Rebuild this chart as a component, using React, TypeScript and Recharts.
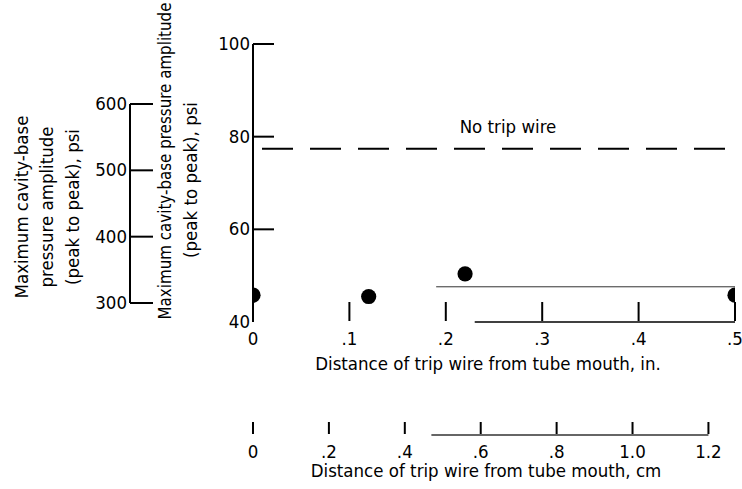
import React from 'react';
import { ScatterChart, Scatter, XAxis, YAxis, ReferenceLine, Label } from 'recharts';

// measured points, distance in inches vs. amplitude
const DIST_IN = [0, 0.12, 0.22, 0.5];
const AMP = [45.8, 45.5, 50.4, 45.8];
const NO_WIRE = 77.4;

const IN_TICKS = [0, 0.1, 0.2, 0.3, 0.4, 0.5];
const IN_LABELS = ['0', '.1', '.2', '.3', '.4', '.5'];
const CM_TICKS = [0, 0.2, 0.4, 0.6, 0.8, 1.0, 1.2];
const CM_LABELS = ['0', '.2', '.4', '.6', '.8', '1.0', '1.2'];
const MAIN_TICKS = [40, 60, 80, 100];
const PSI_TICKS = [300, 400, 500, 600];

const CM_PER_IN = 2.54;
const CM_MAX = 0.5 * CM_PER_IN; // cm scale shares the inch axis length

const FONT = "'DejaVu Sans Condensed', 'Liberation Sans Narrow', sans-serif";
const INK = '#000';
const FS = 18.5;

const points = DIST_IN.map((x, i) => ({ x, y: AMP[i] }));
const pointsCm = DIST_IN.map((x, i) => ({ x: x * CM_PER_IN, y: AMP[i] }));

const xTick = (labels: string[], ticks: number[], len: number) => (p: any) => {
  const v = p.payload.value;
  const label = labels[ticks.indexOf(v)] ?? String(v);
  return (
    <g>
      <line x1={p.x} x2={p.x} y1={p.y - len} y2={p.y - 1} stroke={INK} strokeWidth={2} />
      <text x={p.x} y={p.y + 23} textAnchor="middle" fontSize={FS} fontFamily={FONT} fill={INK}>{label}</text>
    </g>
  );
};

const yTick = (len: number, skip: number | null, dy = 6) => (p: any) => {
  const v = p.payload.value;
  return (
    <g>
      {v !== skip && <line x1={p.x} x2={p.x + len} y1={p.y} y2={p.y} stroke={INK} strokeWidth={2} />}
      <text x={p.x - 3} y={p.y + dy} textAnchor="end" fontSize={FS} fontFamily={FONT} fill={INK}>{v}</text>
    </g>
  );
};

const rotText = (x: number, y: number, s: string, key: string, fs = FS) => (
  <text key={key} x={x} y={y} transform={`rotate(-90, ${x}, ${y})`} textAnchor="middle"
    fontSize={fs} fontFamily={FONT} fill={INK}>{s}</text>
);

export default function App() {
  return (
    <div style={{ position: 'absolute', left: 0, top: 0, width: 742, height: 489, background: '#fff' }}>
      <div style={{ position: 'absolute', left: 0, top: 0 }}>
        <ScatterChart width={742} height={489} margin={{ top: 44, right: 7, bottom: 0, left: 0 }}>
          <XAxis xAxisId="a_in" type="number" dataKey="x" domain={[0, 0.5]} ticks={IN_TICKS} interval={0}
            allowDataOverflow height={113} axisLine={false} tickLine={false} tickSize={0} tickMargin={0}
            tick={xTick(IN_LABELS, IN_TICKS, 20)}>
            <Label content={(lp: any) => {
              const vb = lp.viewBox;
              return (
                <text x={vb.x + vb.width / 2 - 6} y={vb.y + 48} textAnchor="middle" fontSize={FS}
                  fontFamily={FONT} fill={INK}>Distance of trip wire from tube mouth, in.</text>
              );
            }} />
          </XAxis>
          <XAxis xAxisId="b_cm" type="number" dataKey="x" domain={[0, CM_MAX]} ticks={CM_TICKS} interval={0}
            allowDataOverflow height={54} axisLine={false} tickLine={false} tickSize={0} tickMargin={0}
            tick={xTick(CM_LABELS, CM_TICKS, 13)}>
            <Label content={(lp: any) => {
              const vb = lp.viewBox;
              return (
                <g>
                  <line x1={vb.x + vb.width * 0.47 / CM_MAX} x2={vb.x + vb.width * 1.2 / CM_MAX}
                    y1={vb.y} y2={vb.y} stroke="#333" strokeWidth={1.5} />
                  <text x={vb.x + vb.width / 2 - 8} y={vb.y + 42} textAnchor="middle" fontSize={FS}
                    fontFamily={FONT} fill={INK}>Distance of trip wire from tube mouth, cm</text>
                </g>
              );
            }} />
          </XAxis>
          <YAxis yAxisId="main" type="number" dataKey="y" domain={[40, 100]} ticks={MAIN_TICKS} interval={0}
            allowDataOverflow width={253} axisLine={{ stroke: INK, strokeWidth: 2 }} tickLine={false}
            tickSize={0} tickMargin={0} tick={yTick(21, 40)}>
            <Label content={(lp: any) => {
              const vb = lp.viewBox;
              const r = vb.x + vb.width;
              return (
                <g>
                  {rotText(r - 82, vb.y + 117, 'Maximum cavity-base pressure amplitude', 'a', 16.8)}
                  {rotText(r - 56, vb.y + 136, '(peak to peak), psi', 'b')}
                </g>
              );
            }} />
          </YAxis>
          <ReferenceLine xAxisId="a_in" yAxisId="main" y={NO_WIRE} stroke={INK} strokeWidth={2}
            strokeDasharray="31 17" strokeDashoffset={39}
            label={{
              content: (lp: any) => {
                const vb = lp.viewBox;
                return (
                  <text x={vb.x + vb.width / 2 + 14} y={vb.y - 16} textAnchor="middle" fontSize={FS}
                    fontFamily={FONT} fill={INK}>No trip wire</text>
                );
              },
            }} />
          <ReferenceLine xAxisId="a_in" yAxisId="main" segment={[{ x: 0.23, y: 40 }, { x: 0.5, y: 40 }]}
            stroke={INK} strokeWidth={1.5} />
          <ReferenceLine xAxisId="a_in" yAxisId="main" segment={[{ x: 0.19, y: 47.6 }, { x: 0.5, y: 47.6 }]}
            stroke="#333" strokeWidth={1} />
          <Scatter xAxisId="a_in" yAxisId="main" data={points} dataKey="y" isAnimationActive={false}
            shape={(p: any) => <circle cx={p.cx} cy={p.cy} r={7.6} fill={INK} />} />
          {/* same points on the cm scale, not drawn: gives the cm axis its domain */}
          <Scatter xAxisId="b_cm" yAxisId="main" data={pointsCm} dataKey="y" isAnimationActive={false}
            legendType="none" shape={() => <g />} />
        </ScatterChart>
      </div>
      <div style={{ position: 'absolute', left: 0, top: 0, pointerEvents: 'none' }}>
        <ScatterChart width={200} height={489} margin={{ top: 104, right: 0, bottom: 186, left: 0 }}>
          <XAxis type="number" dataKey="x" domain={[0, 1]} hide />
          <YAxis type="number" dataKey="y" domain={[300, 600]} ticks={PSI_TICKS} interval={0}
            allowDataOverflow width={130} axisLine={{ stroke: INK, strokeWidth: 2 }} tickLine={false}
            tickSize={0} tickMargin={0} tick={yTick(23, null)}>
            <Label content={(lp: any) => {
              const vb = lp.viewBox;
              const cy = vb.y + 103;
              return (
                <g>
                  {rotText(vb.x + 28, cy, 'Maximum cavity-base', 'a')}
                  {rotText(vb.x + 53, cy, 'pressure amplitude', 'b')}
                  {rotText(vb.x + 79, cy, '(peak to peak), psi', 'c')}
                </g>
              );
            }} />
          </YAxis>
        </ScatterChart>
      </div>
    </div>
  );
}
